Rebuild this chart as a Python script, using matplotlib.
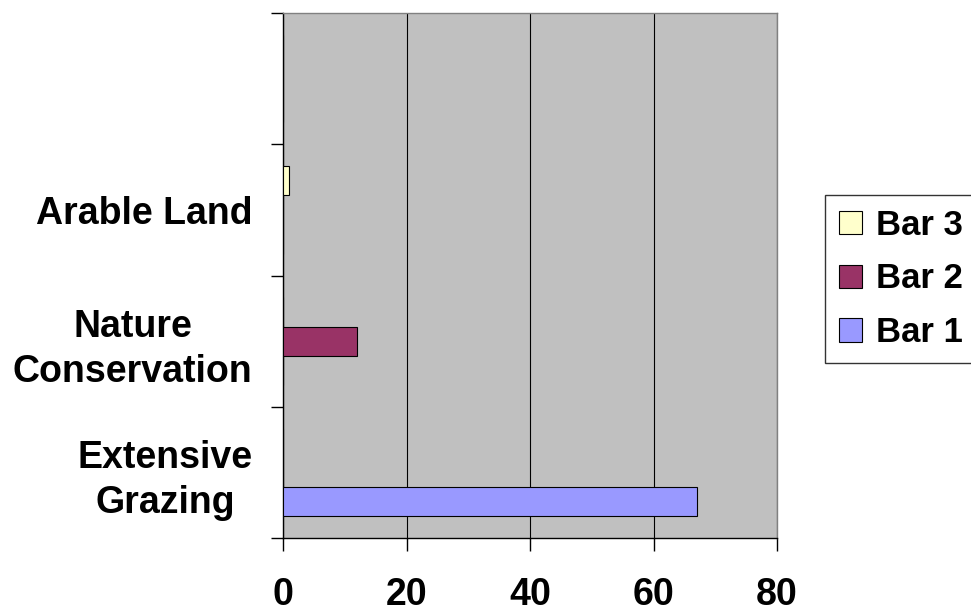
import matplotlib
matplotlib.use("Agg")
import matplotlib.pyplot as plt
import numpy as np

categories = ["Extensive\nGrazing", "Nature\nConservation", "Arable Land", ""]
bar1 = [67, 0, 0, 0]
bar2 = [0, 12, 0, 0]
bar3 = [0, 0, 1, 0]
series_names = ["Bar 1", "Bar 2", "Bar 3"]
x_ticks = [0, 20, 40, 60, 80]

plt.rcParams["font.family"] = ["Liberation Sans", "DejaVu Sans"]
plt.rcParams["font.weight"] = "bold"

fig = plt.figure(figsize=(9.71, 6.15), dpi=100)
ax = fig.add_axes([283 / 971, 77 / 615, 494 / 971, 525 / 615])
ax.set_facecolor("#c0c0c0")

y = np.arange(len(categories))
w = 1 / 4.5
colors = ["#9999ff", "#993366", "#ffffcc"]
handles = []
for k, (vals, name) in enumerate(zip([bar1, bar2, bar3], series_names)):
    h = ax.barh(y + (k - 1) * w, vals, height=w, color=colors[k],
                edgecolor="black", linewidth=0.8, label=name, zorder=3)
    handles.append(h)

ax.set_xlim(0, 80)
ax.set_ylim(-0.5, len(categories) - 0.5)
ax.set_xticks(x_ticks)
ax.set_xticklabels([str(v) for v in x_ticks], fontsize=27, fontweight="bold")
ax.grid(axis="x", color="black", linewidth=0.8, zorder=1)

# boundaries carry the tick marks, labels sit in the middle of each band
ax.set_yticks(np.arange(len(categories) + 1) - 0.5)
ax.set_yticklabels([])
ax.set_yticks(y, minor=True)
ax.set_yticklabels(categories, minor=True, fontsize=27, fontweight="bold",
                   multialignment="center", linespacing=1.3)
ax.tick_params(axis="y", which="minor", length=0, pad=22)
ax.tick_params(axis="y", which="major", direction="out", length=9, width=1, color="black")
ax.tick_params(axis="x", direction="out", length=9, width=1, pad=19, color="black")

ax.spines["left"].set_color("black")
ax.spines["bottom"].set_color("black")
ax.spines["top"].set_color("#808080")
ax.spines["right"].set_color("#808080")
for s in ax.spines.values():
    s.set_linewidth(1)

leg = fig.legend(handles[::-1], series_names[::-1], loc="center left",
                 bbox_to_anchor=(825 / 971, 1 - 279 / 615),
                 prop={"weight": "bold", "size": 25},
                 handlelength=0.66, handleheight=0.66, handletextpad=0.4,
                 labelspacing=0.6, borderpad=0.4, borderaxespad=0,
                 frameon=True, fancybox=False, edgecolor="black")
leg.get_frame().set_linewidth(1)

fig.savefig("out.png", dpi=100)
